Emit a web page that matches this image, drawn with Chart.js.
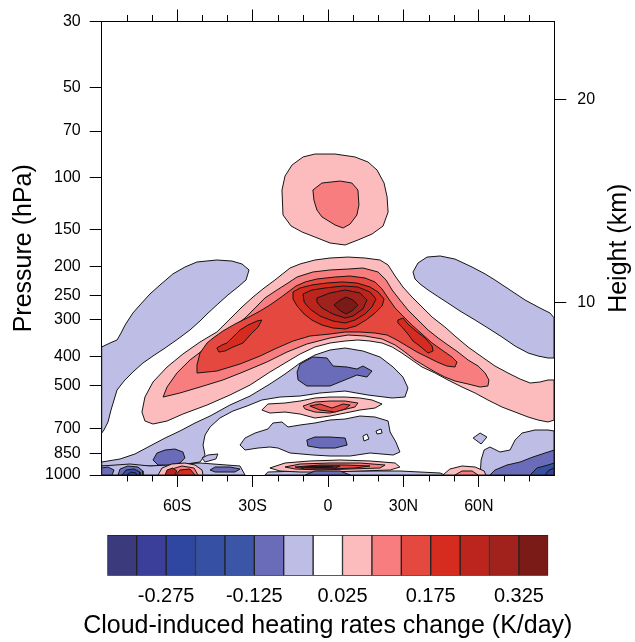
<!DOCTYPE html>
<html><head><meta charset="utf-8">
<script src="https://cdn.jsdelivr.net/npm/chart.js@4.4.1/dist/chart.umd.min.js"></script>
<style>
html,body{margin:0;padding:0;background:#fff;}
#wrap{position:relative;width:635px;height:642px;overflow:hidden;}
#main{position:absolute;left:0;top:0;}
#bar{position:absolute;left:0;top:520px;}
</style></head>
<body><div id="wrap">
<canvas id="main" width="635" height="520"></canvas>
<canvas id="bar" width="635" height="122"></canvas>
</div>
<script>
// ---------------- axes / ticks ----------------
const latTicks = [-60, -30, 0, 30, 60];
const latLabels = ['60S', '30S', '0', '30N', '60N'];
const latMinorTicks = [-80, -70, -50, -40, -20, -10, 10, 20, 40, 50, 70, 80];
const pressureTicks = [1000, 850, 700, 500, 400, 300, 250, 200, 150, 100, 70, 50, 30];
const heightTicksKm = [10, 20];
const heightTickPressures = [264.4, 54.75];

// ---------------- colour levels ----------------
const levels = [-0.325, -0.275, -0.225, -0.175, -0.125, -0.075, -0.025, 0.025, 0.075, 0.125, 0.175, 0.225, 0.275, 0.325];
const colorbarEnds = [-0.375, 0.375];
const colorbarLabels = [-0.275, -0.125, 0.025, 0.175, 0.325];
const levelColors = ['#3b3a7c', '#3b3f99', '#2f47a1', '#3651a3', '#3b56a7', '#6a6cb9', '#bebde6', '#ffffff',
                     '#fcbcbe', '#f77d7e', '#e5483f', '#d62b1f', '#bc251d', '#a1221c', '#7b1b17'];

// ---------------- contour regions: [latitude, pressure hPa] ----------------
const wingSouth = [[-90,371.7],[-86.7,360.4],[-83.9,352.1],[-82.3,333.6],[-80.7,313.6],[-77.6,285.8],[-74.8,268.6],[-70.8,246.7],[-66.8,230.1],[-61.7,211.3],[-56.9,200.3],[-52.1,192.6],[-44.2,189.7],[-38.2,191.2],[-34.2,195.6],[-31.4,204.9],[-32.6,221.4],[-35.8,233.7],[-39.8,248.6],[-43.8,266.6],[-47.7,285.8],[-50.9,304.0],[-54.9,325.9],[-59.7,349.4],[-64.8,374.6],[-69.6,398.5],[-73.6,420.7],[-77.6,451.0],[-81.1,483.4],[-83.9,518.4],[-85.1,560.0],[-86.3,605.0],[-87.5,663.8],[-89.1,706.2],[-90,722.8]];
const wingNorth = [[33.8,208.1],[35.8,194.1],[39.4,185.4],[44.6,183.9],[50.5,188.3],[57.3,200.3],[62.5,211.3],[66.4,221.4],[72.4,239.2],[78.4,258.5],[84.3,274.9],[88.3,285.8],[90,297.1],[90,404.7],[87.5,404.7],[83.5,398.5],[79.6,389.4],[74.4,368.9],[69.2,344.1],[63.6,320.9],[58.5,301.7],[52.5,281.4],[47.7,264.5],[43.4,250.6],[39.8,239.2],[36.6,228.3],[34.6,219.7]];
const topBlobOuter = [[-18.3,110.4],[-17.1,99.1],[-14.3,91.0],[-9.9,85.5],[-5.2,83.6],[2.8,83.6],[10.7,85.5],[15.9,88.9],[19.5,94.6],[22.3,104.6],[23.5,116.5],[23.9,130.9],[21.9,145.8],[17.5,155.2],[11.9,162.5],[6.8,168.9],[0.8,166.3],[-5.2,158.8],[-10.3,152.8],[-14.7,145.8],[-17.9,133.9]];
const topBlobInner = [[-6.0,110.4],[-2.4,104.6],[4.8,103.0],[9.5,104.6],[11.9,110.4],[12.3,124.0],[11.5,133.9],[8.8,143.6],[6.0,148.1],[2.8,144.7],[-2.4,135.9],[-4.4,128.9],[-5.6,119.3]];
const arch9 = [[-74.0,614.5],[-72.8,547.2],[-69.6,487.2],[-64.0,433.9],[-57.7,392.4],[-50.9,357.6],[-44.2,331.0],[-39.4,301.7],[-34.2,272.8],[-29.8,252.5],[-25.9,237.3],[-21.1,221.4],[-15.1,201.8],[-11.1,195.6],[-5.2,189.7],[0.8,186.8],[8.0,185.4],[14.7,186.8],[20.7,189.7],[23.9,197.2],[26.7,214.7],[29.8,233.7],[33.4,252.5],[37.4,272.8],[41.4,294.8],[46.5,318.5],[50.5,341.4],[55.7,371.7],[61.3,401.6],[66.4,430.6],[71.6,454.5],[76.4,476.2],[80.4,491.0],[84.3,487.2],[87.5,479.7],[90,479.7],[90,653.6],[87.5,663.8],[83.5,653.6],[79.6,638.7],[74.4,614.5],[69.2,591.2],[63.6,560.0],[58.5,530.5],[53.3,506.5],[47.7,479.7],[42.6,454.5],[37.4,433.9],[33.4,411.0],[29.4,389.4],[25.5,371.7],[21.5,360.4],[16.7,354.9],[11.9,352.1],[6.8,354.9],[0.8,360.4],[-5.2,371.7],[-11.1,392.4],[-17.1,420.7],[-23.1,451.0],[-31.0,498.7],[-39.0,538.8],[-48.1,582.1],[-57.7,624.1],[-64.0,658.7],[-69.6,674.2],[-72.8,658.7]];
const arch10 = [[-65.6,547.2],[-64.0,506.5],[-60.1,454.5],[-54.9,411.0],[-48.1,371.7],[-43.0,344.1],[-37.8,318.5],[-33.0,297.1],[-29.0,274.9],[-25.1,254.5],[-20.3,239.2],[-15.9,226.6],[-12.3,216.3],[-6.0,208.1],[0.8,204.9],[8.0,203.4],[13.9,201.8],[19.9,208.1],[23.1,221.4],[25.5,239.2],[28.6,258.5],[31.8,279.2],[35.8,301.7],[39.8,325.9],[43.8,346.7],[47.7,366.0],[51.7,386.4],[55.7,411.0],[59.7,430.6],[62.5,454.5],[64.0,479.7],[63.6,502.5],[60.5,506.5],[55.7,494.8],[50.5,483.4],[46.5,468.8],[42.6,451.0],[38.6,430.6],[34.6,411.0],[30.6,386.4],[26.7,366.0],[21.5,349.4],[14.7,341.4],[8.0,338.8],[0.8,346.7],[-8.4,363.2],[-16.3,386.4],[-24.3,417.4],[-33.8,451.0],[-41.8,479.7],[-50.9,506.5],[-58.9,530.5]];
const arch11 = [[-52.1,427.2],[-50.9,389.4],[-48.1,360.4],[-45.7,346.7],[-41.8,328.5],[-37.0,311.2],[-32.2,297.1],[-27.0,281.4],[-23.1,268.6],[-19.1,254.5],[-15.9,242.9],[-12.7,231.9],[-9.1,224.8],[-4.4,219.7],[2.8,216.3],[8.8,214.7],[14.7,218.0],[18.7,224.8],[21.5,237.3],[23.9,254.5],[26.7,274.9],[29.8,292.5],[33.4,313.6],[37.4,336.2],[41.4,360.4],[45.3,380.4],[49.3,401.6],[51.3,417.4],[50.5,433.9],[47.3,430.6],[43.4,417.4],[39.4,401.6],[35.4,386.4],[31.4,368.9],[27.4,352.1],[23.5,338.8],[18.7,333.6],[12.7,331.0],[6.8,331.0],[0.8,336.2],[-7.2,341.4],[-13.9,354.9],[-20.3,374.6],[-27.0,398.5],[-35.0,423.9],[-44.2,447.6],[-52.1,454.5]];
const coreSouth = [[-44.2,374.6],[-42.2,366.0],[-40.2,360.4],[-37.8,344.1],[-35.0,325.9],[-31.8,313.6],[-28.2,304.0],[-26.3,301.7],[-27.8,318.5],[-31.0,338.8],[-33.8,360.4],[-37.8,371.7],[-41.0,383.4],[-43.4,386.4]];
const core12 = [[-13.9,242.9],[-11.1,235.5],[-6.4,230.1],[-0.4,226.6],[5.6,224.8],[11.5,226.6],[16.7,233.7],[19.9,242.9],[22.3,256.5],[21.5,270.7],[18.7,285.8],[15.1,301.7],[11.1,316.0],[6.8,323.4],[2.0,320.9],[-2.4,313.6],[-6.4,301.7],[-9.5,288.0],[-12.3,270.7],[-13.9,256.5]];
const core13 = [[-9.9,246.7],[-6.4,239.2],[-1.2,235.5],[6.0,231.9],[11.9,233.7],[16.7,242.9],[19.1,256.5],[17.5,272.8],[14.7,288.0],[10.7,301.7],[6.8,308.8],[2.0,304.0],[-3.2,292.5],[-7.2,277.0],[-9.5,262.5]];
const core14 = [[-4.4,254.5],[0.8,244.8],[6.8,239.2],[12.7,244.8],[15.5,258.5],[13.9,277.0],[9.9,292.5],[6.8,297.1],[2.0,288.0],[-2.4,274.9],[-4.4,262.5]];
const core15 = [[2.4,268.6],[4.8,258.5],[7.2,252.5],[9.9,258.5],[11.9,268.6],[9.5,281.4],[7.2,288.0],[4.4,279.2]];
const coreNorth = [[27.8,301.7],[29.8,297.1],[31.8,311.2],[35.0,328.5],[38.6,346.7],[41.4,368.9],[41.8,383.4],[39.8,389.4],[37.0,371.7],[33.8,354.9],[31.8,336.2],[29.4,318.5],[27.8,308.8]];
const bandE = [[-90,904.4],[-82.7,883.7],[-76.8,850.2],[-70.8,799.2],[-64.8,751.3],[-58.9,711.7],[-52.9,669.0],[-46.9,633.8],[-39.0,582.1],[-31.0,543.0],[-23.1,494.8],[-17.1,458.1],[-11.1,420.7],[-5.2,395.4],[0.8,380.4],[6.8,374.6],[13.9,383.4],[20.7,401.6],[25.9,433.9],[29.8,468.8],[31.8,510.4],[30.6,547.2],[25.5,551.4],[15.9,538.8],[6.8,522.4],[-3.2,530.5],[-11.1,543.0],[-19.1,547.2],[-26.3,560.0],[-32.2,586.6],[-37.8,609.7],[-43.0,643.7],[-46.9,690.0],[-48.9,734.1],[-49.7,793.1],[-48.9,856.8],[-50.9,904.4],[-58.9,925.7],[-70.8,932.8],[-82.7,932.8],[-90,932.8]];
const blobE = [[-12.3,451.0],[-11.1,423.9],[-6.0,401.6],[-0.4,404.7],[2.0,430.6],[7.6,433.9],[11.5,440.7],[13.9,430.6],[17.5,447.6],[15.5,468.8],[11.5,461.6],[7.6,476.2],[0.8,502.5],[-8.4,502.5],[-11.9,479.7]];
const blobSW = [[-69.6,890.5],[-68.0,843.6],[-64.8,824.3],[-60.9,818.0],[-57.7,837.1],[-56.9,876.9],[-58.9,911.4],[-63.6,925.7],[-67.6,925.7]];
const isletSW = [[-50.1,876.9],[-47.7,856.8],[-43.8,850.2],[-44.6,883.7],[-48.9,904.4]];
const strip9 = [[-26.3,605.0],[-23.9,577.6],[-17.1,573.2],[-11.1,564.4],[-5.2,551.4],[0.8,547.2],[6.8,547.2],[12.7,551.4],[17.5,560.0],[21.5,577.6],[18.7,595.8],[12.7,605.0],[6.8,619.3],[0.8,633.8],[-5.2,643.7],[-11.1,624.1],[-17.1,614.5],[-23.1,619.3]];
const strip10 = [[-9.9,586.6],[-5.2,568.8],[0.8,564.4],[6.8,564.4],[11.9,573.2],[10.7,591.2],[5.6,605.0],[0.8,619.3],[-5.2,614.5],[-9.1,600.4]];
const strip11 = [[-7.2,586.6],[-3.2,577.6],[1.6,595.8],[6.0,577.6],[8.8,582.1],[6.8,600.4],[2.8,614.5],[-3.2,605.0]];
const bandF = [[-35.0,793.1],[-33.0,751.3],[-29.0,722.8],[-23.9,700.7],[-21.9,669.0],[-18.3,663.8],[-15.9,690.0],[-11.1,679.4],[-5.2,669.0],[0.8,653.6],[6.8,648.7],[12.7,633.8],[18.7,638.7],[23.9,658.7],[24.7,717.2],[27.0,774.8],[28.6,837.1],[25.9,856.8],[16.7,843.6],[8.8,863.4],[0.8,863.4],[-6.0,856.8],[-15.1,843.6],[-19.9,811.7],[-23.1,805.4],[-27.8,811.7],[-33.0,824.3]];
const blobF = [[-8.4,763.0],[-5.2,745.5],[0.8,745.5],[6.8,751.3],[7.6,793.1],[2.8,811.7],[-3.2,811.7],[-8.0,799.2]];
const holeF1 = [[13.9,739.8],[15.5,728.4],[16.3,757.1],[14.3,768.9]];
const holeF2 = [[19.1,711.7],[21.1,700.7],[21.5,722.8],[19.5,728.4]];
const diamondNE = [[57.7,751.3],[60.5,722.8],[63.2,745.5],[60.9,786.9]];
const sfcNE7 = [[60.5,1000],[60.9,890.5],[62.1,824.3],[64.4,805.4],[68.4,837.1],[72.4,824.3],[74.4,763.0],[77.2,722.8],[82.3,706.2],[87.5,706.2],[90,711.7],[90,1000]];
const sfcNE6 = [[64.4,1000],[66.4,962.2],[71.2,925.7],[76.4,904.4],[81.5,870.1],[86.3,843.6],[90,824.3],[90,1000]];
const sfcNE4 = [[80.4,1000],[83.1,947.4],[87.5,925.7],[90,911.4],[90,1000]];
const sfcNE2 = [[86.3,1000],[87.9,962.2],[90,947.4],[90,1000]];
const sfcSW7 = [[-90,932.8],[-78.8,918.5],[-70.8,932.8],[-50.9,911.4],[-35.0,932.8],[-33.0,1000],[-90,1000]];
const sfcMid7 = [[-23.9,977.2],[-11.1,969.6],[28.6,969.6],[44.6,984.8],[46.5,1000],[-25.1,1000]];
const sfcCorner6 = [[-90,947.4],[-87.5,940.1],[-85.1,962.2],[-85.9,1000],[-90,1000]];
const sfcA6 = [[-83.5,1000],[-82.7,954.7],[-79.6,932.8],[-75.6,940.1],[-73.6,969.6],[-73.6,1000]];
const sfcA4 = [[-81.9,1000],[-80.3,962.2],[-77.2,954.7],[-74.8,977.2],[-74.8,1000]];
const sfcA2 = [[-80.0,1000],[-78.4,977.2],[-76.4,984.8],[-76.0,1000]];
const sfcB9 = [[-67.6,1000],[-66.0,947.4],[-62.1,918.5],[-56.9,911.4],[-52.9,925.7],[-50.1,962.2],[-49.7,1000]];
const sfcB10 = [[-63.6,1000],[-62.1,954.7],[-58.1,932.8],[-53.3,947.4],[-51.7,1000]];
const sfcB12 = [[-60.5,1000],[-58.9,962.2],[-54.9,954.7],[-52.9,1000]];
const sfcB13 = [[-64.8,1000],[-64.0,962.2],[-61.7,947.4],[-60.1,969.6],[-60.9,1000]];
const sfcC6 = [[-46.9,962.2],[-44.9,940.1],[-39.0,940.1],[-35.0,954.7],[-37.0,977.2],[-44.9,977.2]];
const sfcD9 = [[-23.1,947.4],[-17.1,911.4],[-7.2,897.4],[4.8,890.5],[16.7,897.4],[26.7,911.4],[28.6,940.1],[24.7,962.2],[12.7,969.6],[0.8,977.2],[-11.1,977.2],[-19.1,969.6]];
const sfcD10 = [[-17.1,940.1],[-11.1,918.5],[0.8,911.4],[12.7,911.4],[22.7,925.7],[20.7,947.4],[8.8,954.7],[-3.2,962.2],[-13.1,954.7]];
const sfcD11 = [[-13.1,940.1],[-3.2,925.7],[6.8,925.7],[16.7,932.8],[10.7,947.4],[0.8,954.7],[-9.1,954.7]];
const sfcD13 = [[-11.1,940.1],[-3.2,932.8],[4.8,932.8],[2.8,947.4],[-5.2,947.4]];
const sfcD15 = [[-7.2,940.1],[-2.4,936.4],[2.0,938.0],[-1.2,944.0],[-5.2,943.5]];
const sfcD6 = [[-9.1,1000],[-5.2,969.6],[4.8,969.6],[8.8,1000]];
const sfcE9 = [[45.7,1000],[48.5,954.7],[53.3,932.8],[58.5,940.1],[62.1,969.6],[62.8,1000]];
const sfcE10 = [[50.5,1000],[53.3,969.6],[57.3,969.6],[59.7,1000]];

// [colour band (1..15), region] in drawing order (bottom first)
const contourList = [
  [7, wingSouth], [7, wingNorth],
  [9, topBlobOuter], [10, topBlobInner],
  [9, arch9], [10, arch10], [11, arch11], [12, coreSouth], [12, core12], [13, core13], [14, core14], [15, core15], [12, coreNorth],
  [7, bandE], [6, blobE], [7, sfcSW7], [6, blobSW], [7, isletSW],
  [9, strip9], [10, strip10], [11, strip11],
  [7, bandF], [6, blobF], [8, holeF1], [8, holeF2],
  [7, diamondNE], [7, sfcNE7], [6, sfcNE6], [4, sfcNE4], [2, sfcNE2],
  [7, sfcMid7], [6, sfcCorner6], [6, sfcA6], [4, sfcA4], [2, sfcA2],
  [9, sfcB9], [10, sfcB10], [12, sfcB12], [13, sfcB13], [6, sfcC6],
  [9, sfcD9], [10, sfcD10], [11, sfcD11], [13, sfcD13], [15, sfcD15], [6, sfcD6],
  [9, sfcE9], [10, sfcE10]
];

const FONT = "'Liberation Sans', Arial, Helvetica, sans-serif";
Chart.defaults.font.family = FONT;
Chart.defaults.color = '#000';

const datasets = contourList.map(([band, pts], i) => ({
  data: pts.concat([pts[0]]).map(([x, y]) => ({x, y})),
  showLine: true,
  fill: 'shape',
  backgroundColor: levelColors[band - 1],
  borderColor: '#151515',
  borderWidth: 1,
  borderJoinStyle: 'round',
  pointRadius: 0,
  pointHoverRadius: 0,
  tension: 0,
  order: contourList.length - i,
  xAxisID: 'x',
  yAxisID: 'y'
}));

const axisGrid = {drawOnChartArea: false, drawTicks: true, tickLength: 12, color: '#000', tickWidth: 1};
const axisBorder = {display: true, color: '#000', width: 1};

const extras = {
  id: 'extras',
  afterDraw(chart) {
    const ctx = chart.ctx, xs = chart.scales.x, a = chart.chartArea;
    ctx.save();
    ctx.strokeStyle = '#000';
    ctx.lineWidth = 1;
    ctx.beginPath();
    for (const v of latMinorTicks) {
      const px = Math.round(xs.getPixelForValue(v)) + 0.5;
      ctx.moveTo(px, a.bottom); ctx.lineTo(px, a.bottom + 6.5);
      ctx.moveTo(px, a.top); ctx.lineTo(px, a.top - 6.5);
    }
    ctx.stroke();
    ctx.translate(619, (a.top + a.bottom) / 2);
    ctx.rotate(-Math.PI / 2);
    ctx.font = '25px ' + FONT;
    ctx.fillStyle = '#000';
    ctx.textAlign = 'center';
    ctx.textBaseline = 'middle';
    ctx.fillText('Height (km)', 0, 0);
    ctx.restore();
  }
};

new Chart(document.getElementById('main'), {
  type: 'scatter',
  data: {datasets},
  plugins: [extras],
  options: {
    responsive: false, animation: false, events: [],
    layout: {padding: 0},
    plugins: {legend: {display: false}, tooltip: {enabled: false}},
    scales: {
      x: {
        type: 'linear', position: 'bottom', min: -90, max: 90,
        afterBuildTicks: s => { s.ticks = latTicks.map(v => ({value: v})); },
        afterFit: s => { s.height = 45; },
        ticks: {callback: (v) => latLabels[latTicks.indexOf(v)], font: {size: 16}, color: '#000', padding: 10, maxRotation: 0, autoSkip: false},
        grid: axisGrid, border: axisBorder
      },
      xTop: {
        type: 'linear', position: 'top', min: -90, max: 90,
        afterBuildTicks: s => { s.ticks = latTicks.map(v => ({value: v})); },
        afterFit: s => { s.height = 21.5; },
        ticks: {display: false},
        grid: axisGrid, border: axisBorder
      },
      y: {
        type: 'logarithmic', position: 'left', min: 30, max: 1000, reverse: true,
        afterBuildTicks: s => { s.ticks = pressureTicks.map(v => ({value: v})); },
        afterFit: s => { s.width = 101.7; },
        ticks: {callback: (v) => String(v), font: {size: 16}, color: '#000', padding: 9, autoSkip: false},
        grid: axisGrid, border: axisBorder,
        title: {display: true, text: 'Pressure (hPa)', font: {size: 25}, color: '#000', padding: {top: 9, bottom: 0}}
      },
      yH: {
        type: 'logarithmic', position: 'right', min: 30, max: 1000, reverse: true,
        afterBuildTicks: s => { s.ticks = heightTickPressures.map(v => ({value: v})); },
        afterFit: s => { s.width = 80.7; },
        ticks: {callback: (v) => String(heightTicksKm[heightTickPressures.indexOf(v)]), font: {size: 16}, color: '#000', padding: 11, autoSkip: false},
        grid: axisGrid, border: axisBorder
      }
    }
  }
});

// ---------------- colour bar ----------------
const barEdges = [colorbarEnds[0], ...levels, colorbarEnds[1]];
const barTitle = {
  id: 'barTitle',
  afterDraw(chart) {
    const ctx = chart.ctx, a = chart.chartArea;
    ctx.save();
    ctx.font = '25px ' + FONT;
    ctx.fillStyle = '#000';
    ctx.textAlign = 'center';
    ctx.textBaseline = 'middle';
    ctx.fillText('Cloud-induced heating rates change (K/day)', (a.left + a.right) / 2, 106);
    ctx.restore();
  }
};
new Chart(document.getElementById('bar'), {
  type: 'bar',
  data: {
    labels: [''],
    datasets: levelColors.map((c, i) => ({
      data: [[barEdges[i], barEdges[i + 1]]],
      backgroundColor: c, borderColor: '#222', borderWidth: 1, borderSkipped: false,
      grouped: false, barPercentage: 1, categoryPercentage: 1
    }))
  },
  plugins: [barTitle],
  options: {
    indexAxis: 'y', responsive: false, animation: false, events: [],
    layout: {padding: {left: 107.3, right: 86.7, top: 15, bottom: 0}},
    plugins: {legend: {display: false}, tooltip: {enabled: false}},
    scales: {
      x: {
        type: 'linear', min: barEdges[0], max: barEdges[barEdges.length - 1],
        afterBuildTicks: s => { s.ticks = colorbarLabels.map(v => ({value: v})); },
        afterFit: s => { s.height = 66.3; },
        ticks: {callback: (v) => v.toFixed(3), font: {size: 20}, color: '#000', padding: 8.5, maxRotation: 0, autoSkip: false},
        grid: {display: false, drawTicks: false},
        border: {display: false}
      },
      y: {display: false}
    }
  }
});
</script></body></html>
